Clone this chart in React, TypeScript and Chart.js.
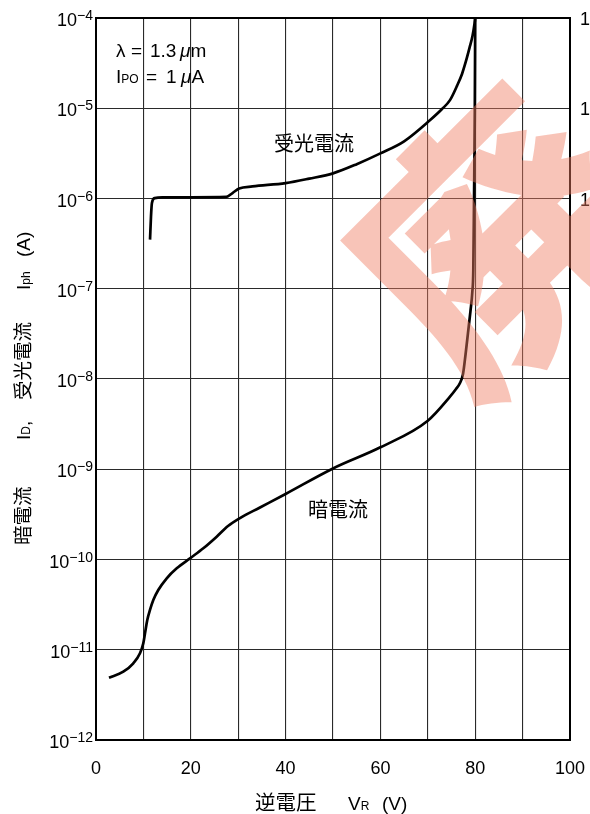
import React, { useEffect, useRef } from 'react';
import { Chart, registerables } from 'chart.js';

Chart.register(...registerables);

// ---- data ----
const darkVoltage = [2.74, 5.76, 7.87, 9.28, 9.98, 10.34, 10.82, 11.39, 12.09, 13.14, 14.92, 17.03, 19.83, 22.64, 25.46, 27.85, 30.38, 34.6, 40, 50, 60, 70, 74.68, 75.95, 76.79, 77.43, 77.95, 78.48, 79.0, 79.39, 79.6, 79.75, 79.92, 80];
const darkCurrent = [4.9e-12, 5.71e-12, 7.08e-12, 9.14e-12, 1.18e-11, 1.52e-11, 2.14e-11, 2.76e-11, 3.56e-11, 4.59e-11, 6.19e-11, 7.98e-11, 1.03e-10, 1.33e-10, 1.79e-10, 2.35e-10, 2.88e-10, 3.77e-10, 5.32e-10, 1.02e-9, 1.75e-9, 3.45e-9, 6.37e-9, 7.74e-9, 9.03e-9, 1.135e-8, 1.845e-8, 3.24e-8, 5.66e-8, 9.2e-8, 1.62e-7, 9.6e-7, 9.57e-6, 1.0e-4];

const photoVoltage = [11.4, 11.6, 11.8, 12.4, 14, 20, 27.5, 28.8, 30.2, 33, 40, 45, 50, 55, 60, 65, 70.5, 73, 74.68, 76.16, 77.22, 78.06, 78.8, 79.43, 79.85, 80];
const photoCurrent = [3.5e-7, 6.3e-7, 8.9e-7, 1.01e-6, 1.03e-6, 1.03e-6, 1.04e-6, 1.15e-6, 1.29e-6, 1.36e-6, 1.48e-6, 1.66e-6, 1.9e-6, 2.4e-6, 3.16e-6, 4.3e-6, 7.4e-6, 9.8e-6, 1.23e-5, 1.77e-5, 2.4e-5, 3.34e-5, 4.66e-5, 6.3e-5, 8.6e-5, 1.0e-4];

const xTickLabels = [0, 20, 40, 60, 80, 100];
const yDecadeExponents = [-12, -11, -10, -9, -8, -7, -6, -5, -4];
const rightEdgeExponents = [-4, -5, -6];
const seriesNames = ['受光電流', '暗電流'];
const watermarkText = '廃';

const SANS = '"Liberation Sans", Arial, Helvetica, sans-serif';
const JP = '"Noto Sans CJK JP", "Noto Sans CJK SC", sans-serif';

type Seg = { t: string; font: string; dy?: number };

function drawRun(ctx: CanvasRenderingContext2D, x: number, y: number, segs: Seg[]) {
  let cx = x;
  for (const s of segs) {
    ctx.font = s.font;
    ctx.fillText(s.t, cx, y + (s.dy || 0));
    cx += ctx.measureText(s.t).width;
  }
  return cx;
}

export default function App() {
  const ref = useRef<HTMLCanvasElement>(null);

  useEffect(() => {
    document.body.style.margin = '0';
    const canvas = ref.current!;

    const overlay = {
      id: 'overlay',
      afterDraw(chart: any) {
        const ctx: CanvasRenderingContext2D = chart.ctx;
        const { left, right, top, bottom } = chart.chartArea;
        const xs = chart.scales.x;
        const ys = chart.scales.y;
        ctx.save();
        // frame
        ctx.strokeStyle = '#000';
        ctx.lineWidth = 2;
        ctx.strokeRect(left, top, right - left, bottom - top);

        ctx.fillStyle = '#000';
        ctx.textBaseline = 'alphabetic';
        // y tick labels (10^n)
        for (const e of yDecadeExponents) {
          const y = ys.getPixelForValue(Math.pow(10, e));
          const sup = '\u2212' + Math.abs(e);
          ctx.font = `14px ${SANS}`;
          const sw = ctx.measureText(sup).width;
          ctx.textAlign = 'right';
          ctx.fillText(sup, 93, y + 2);
          ctx.font = `18px ${SANS}`;
          ctx.fillText('10', 93 - sw, y + 8);
        }
        // x tick labels
        ctx.textAlign = 'center';
        ctx.font = `18px ${SANS}`;
        for (const v of xTickLabels) {
          ctx.fillText(String(v), xs.getPixelForValue(v), 774);
        }
        // right-edge partial labels
        ctx.textAlign = 'left';
        for (const e of rightEdgeExponents) {
          const y = ys.getPixelForValue(Math.pow(10, e));
          ctx.fillText('1', 580, y + 7);
        }

        // x title
        ctx.textAlign = 'left';
        drawRun(ctx, 255, 810, [{ t: '逆電圧', font: `20.5px ${JP}` }]);
        drawRun(ctx, 348, 810, [
          { t: 'V', font: `19px ${SANS}` },
          { t: 'R', font: `12px ${SANS}` },
        ]);
        drawRun(ctx, 382, 810, [{ t: '(V)', font: `19px ${SANS}` }]);

        // y title (rotated)
        ctx.save();
        ctx.translate(23, 0);
        ctx.rotate(-Math.PI / 2);
        ctx.textAlign = 'left';
        drawRun(ctx, -545, 7, [{ t: '暗電流', font: `19.5px ${JP}` }]);
        drawRun(ctx, -440, 7, [
          { t: 'I', font: `19px ${SANS}` },
          { t: 'D', font: `12px ${SANS}` },
          { t: ',', font: `19px ${SANS}` },
        ]);
        drawRun(ctx, -400, 7, [{ t: '受光電流', font: `19.5px ${JP}` }]);
        drawRun(ctx, -290, 7, [
          { t: 'I', font: `19px ${SANS}` },
          { t: 'ph', font: `12px ${SANS}` },
        ]);
        drawRun(ctx, -257, 7, [{ t: '(A)', font: `19px ${SANS}` }]);
        ctx.restore();

        // condition text
        ctx.textAlign = 'left';
        const f19 = `19px ${SANS}`;
        const it19 = `italic 19px ${SANS}`;
        drawRun(ctx, 116, 57, [{ t: 'λ', font: f19 }]);
        drawRun(ctx, 131, 57, [{ t: '=', font: f19 }]);
        drawRun(ctx, 150, 57, [{ t: '1.3', font: f19 }]);
        drawRun(ctx, 180, 57, [{ t: 'μ', font: it19 }, { t: 'm', font: f19 }]);
        drawRun(ctx, 116, 83, [{ t: 'I', font: f19 }, { t: 'PO', font: `12px ${SANS}` }]);
        drawRun(ctx, 146, 83, [{ t: '=', font: f19 }]);
        drawRun(ctx, 166, 83, [{ t: '1', font: f19 }]);
        drawRun(ctx, 181, 83, [{ t: 'μ', font: it19 }, { t: 'A', font: f19 }]);

        // series labels
        ctx.font = `20px ${JP}`;
        ctx.textAlign = 'center';
        ctx.textBaseline = 'middle';
        ctx.fillText(seriesNames[0], 314, 143);
        ctx.fillText(seriesNames[1], 338, 509);

        // watermark
        ctx.save();
        ctx.translate(494, 241);
        ctx.rotate(-Math.PI / 4);
        ctx.font = `900 268px ${JP}`;
        ctx.fillStyle = 'rgba(239,124,97,0.45)';
        ctx.textAlign = 'center';
        ctx.textBaseline = 'middle';
        ctx.fillText(watermarkText, 0, 0);
        ctx.restore();

        ctx.restore();
      },
    };

    const gridOpts = { color: '#2a2a2a', lineWidth: 1.1, drawTicks: false };

    const chart = new Chart(canvas, {
      type: 'scatter',
      data: {
        datasets: [
          {
            label: seriesNames[0],
            data: photoVoltage.map((v, i) => ({ x: v, y: photoCurrent[i] })),
            showLine: true,
            borderColor: '#000',
            borderWidth: 2.7,
            pointRadius: 0,
            cubicInterpolationMode: 'monotone',
          },
          {
            label: seriesNames[1],
            data: darkVoltage.map((v, i) => ({ x: v, y: darkCurrent[i] })),
            showLine: true,
            borderColor: '#000',
            borderWidth: 2.7,
            pointRadius: 0,
            cubicInterpolationMode: 'monotone',
          },
        ],
      },
      options: {
        responsive: false,
        animation: false,
        devicePixelRatio: 1,
        layout: { padding: { left: 96, right: 20, top: 18, bottom: 74 } },
        plugins: { legend: { display: false }, tooltip: { enabled: false } },
        scales: {
          x: {
            type: 'linear',
            min: 0,
            max: 100,
            ticks: { stepSize: 10, display: false },
            grid: gridOpts,
            border: { display: false },
          },
          y: {
            type: 'logarithmic',
            min: 1e-12,
            max: 1e-4,
            afterBuildTicks: (s: any) => {
              s.ticks = yDecadeExponents.map((e) => ({ value: Math.pow(10, e) }));
            },
            ticks: { display: false },
            grid: gridOpts,
            border: { display: false },
          },
        },
      },
      plugins: [overlay],
    } as any);

    return () => chart.destroy();
  }, []);

  return (
    <div style={{ width: 590, height: 814, background: '#fff' }}>
      <canvas ref={ref} width={590} height={814} style={{ display: 'block' }} />
    </div>
  );
}
